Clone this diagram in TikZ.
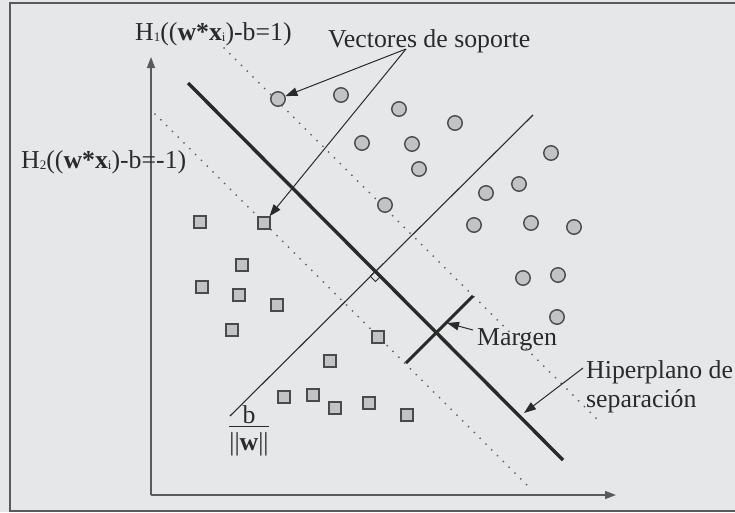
\documentclass[tikz,border=0pt]{standalone}
\usepackage{amsmath}
\usepackage{fontspec}
\setmainfont{Liberation Serif}
\usetikzlibrary{arrows.meta}
\definecolor{bg}{HTML}{E6E7E9}
\definecolor{ink}{HTML}{2A2A2A}
\definecolor{ptfill}{HTML}{C2C3C5}
\definecolor{ptdraw}{HTML}{4A4A4A}
\definecolor{axisc}{HTML}{5A5A5A}
\newcommand\lowsub[1]{\raisebox{-1.5pt}{\fontsize{13}{13}\selectfont #1}}
\tikzset{
  lbl/.style={font=\fontsize{25.8}{29}\selectfont, text=ink, inner sep=0pt},
  circpt/.style={circle, draw=ptdraw, fill=ptfill, line width=1.4pt, minimum size=14.5pt, inner sep=0pt},
  sqpt/.style={rectangle, draw=ptdraw, fill=ptfill, line width=1.4pt, minimum size=12pt, inner sep=0pt},
  margline/.style={draw=gray!75!black, line width=2pt, dash pattern=on 0pt off 8.2pt, line cap=round},
  pointer/.style={draw=ink, line width=1pt, -{Triangle[length=12pt,width=8.5pt]}},
  axisline/.style={draw=axisc, line width=1.4pt, -{Triangle[length=11pt,width=8pt]}},
}
\begin{document}
\begin{tikzpicture}[x=1pt,y=-1pt]
\useasboundingbox (0,0) rectangle (735,512);
\fill[bg] (0,0) rectangle (735,512);
\draw[axisc, line width=1.4pt] (10,3) rectangle (760,511);

% axes
\coordinate (O) at (151,495);
\coordinate (ytip) at (151,57);
\coordinate (xtip) at (616,495);
\draw[axisline] (O) -- (ytip);
\draw[axisline] (O) -- (xtip);

% margin hyperplanes (dotted)
\coordinate (h1a) at (224,48);
\coordinate (h1b) at (600,422);
\coordinate (h2a) at (155,114);
\coordinate (h2b) at (532,490);
\draw[margline] (h1a) -- (h1b);
\draw[margline] (h2a) -- (h2b);

% normal line (thin)
\coordinate (na) at (230,416);
\coordinate (nb) at (533,115);
\draw[ink, line width=1.1pt] (na) -- (nb);

% separating hyperplane (thick)
\coordinate (sa) at (188,83);
\coordinate (sb) at (563,460);
\draw[ink, line width=3.4pt] (sa) -- (sb);

% right angle marker
\coordinate (ra) at (375.5,271);
\draw[ink, line width=0.9pt] (ra) -- ++(-5.2,5.2) -- ++(5.2,5.2) -- ++(5.2,-5.2) -- cycle;

% margin segment
\coordinate (ma) at (406,363);
\coordinate (mb) at (473,296);
\draw[ink, line width=3pt] (ma) -- (mb);

% circles
\foreach \i/\x/\y in {1/278/99, 2/341/95, 3/399/109, 4/455/123, 5/362/143, 6/412/144, 7/419/169, 8/385/205, 9/486/193, 10/519/184, 11/551/153, 12/474/225, 13/531/223, 14/574/227, 15/523/278, 16/558/275, 17/557/317}
  \node[circpt] (c\i) at (\x,\y) {};

% squares
\foreach \i/\x/\y in {1/200/222, 2/264/223, 3/242/265, 4/202/287, 5/239/295, 6/277/305, 7/232/330, 8/378/337, 9/330/361, 10/284/397, 11/313/395, 12/335/408, 13/369/403, 14/407/415}
  \node[sqpt] (s\i) at (\x,\y) {};

% labels
\node[lbl, anchor=base west] (H1) at (135,40) {H\lowsub{1}((\textbf{w*x}\lowsub{i})-b=1)};
\node[lbl, anchor=base west] (H2) at (21,168) {H\lowsub{2}((\textbf{w*x}\lowsub{i})-b=-1)};
\node[lbl, anchor=base west] (vs) at (328,47) {Vectores de soporte};
\node[lbl, anchor=base west] (mg) at (477,345) {Margen};
\node[lbl, anchor=north west, align=left] (hp) at (586,360.5) {Hiperplano de\\separación};
\node[lbl, anchor=base] (fr) at (249,433) {$\dfrac{\raisebox{-7pt}{\text{b}}}{\text{\textbar\textbar\textbf{w}\textbar\textbar}}$};

% pointers
\coordinate (vsroot) at (406,49);
\draw[pointer] (vsroot) -- (c1);
\draw[pointer] (vsroot) -- (s2);
\coordinate (mgtip) at (447,323);
\coordinate (mgroot) at (473,330);
\draw[pointer] (mgroot) -- (mgtip);
\coordinate (hproot) at (583,368);
\coordinate (hptip) at (524,413);
\draw[pointer] (hproot) -- (hptip);
\end{tikzpicture}
\end{document}
